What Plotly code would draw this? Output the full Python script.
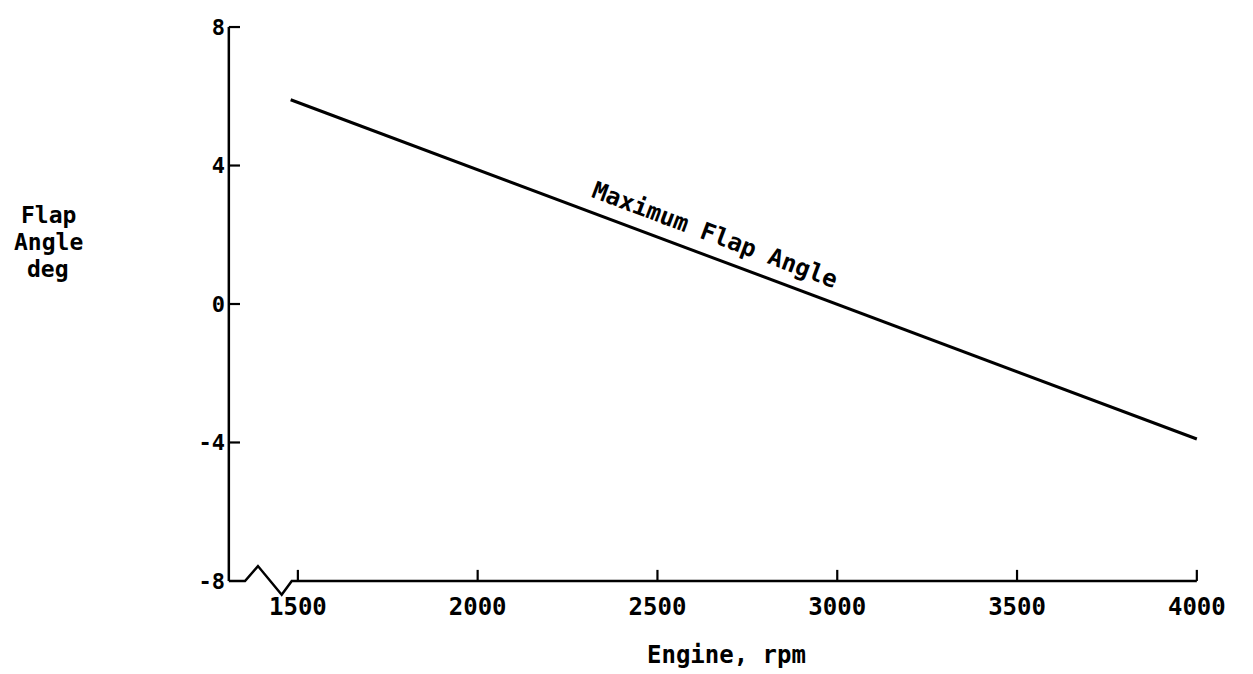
import plotly.graph_objects as go

# ---- data ----
rpm = [1480, 4000]
flap_angle = [5.9, -3.9]
line_label = "Maximum Flap Angle"

x_ticks = [1500, 2000, 2500, 3000, 3500, 4000]
y_ticks = [-8, -4, 0, 4, 8]

x_title = "Engine, rpm"
y_title_lines = ["Flap", "Angle", "deg"]

# axis-break decoration (rpm, deg) for the broken x axis
axis_origin_x = 1308
break_x = [1353, 1389, 1455, 1483]
break_y = [-8, -7.57, -8.4, -8]

FONT = "DejaVu Sans Mono"

fig = go.Figure()

# data line
fig.add_trace(go.Scatter(x=rpm, y=flap_angle, mode="lines",
                         line=dict(color="black", width=3), hoverinfo="skip"))

# y axis line
fig.add_trace(go.Scatter(x=[axis_origin_x, axis_origin_x], y=[min(y_ticks), max(y_ticks)],
                         mode="lines", line=dict(color="black", width=2.5), hoverinfo="skip"))
# x axis line with break
ax_x = [axis_origin_x] + break_x + [max(x_ticks)]
ax_y = [min(y_ticks)] + break_y + [min(y_ticks)]
fig.add_trace(go.Scatter(x=ax_x, y=ax_y, mode="lines",
                         line=dict(color="black", width=2.5), hoverinfo="skip"))

# tick marks
tx, ty = [], []
for v in x_ticks:
    tx += [v, v, None]
    ty += [min(y_ticks), min(y_ticks) + 0.32, None]
for v in y_ticks[1:]:
    tx += [axis_origin_x, axis_origin_x + 31, None]
    ty += [v, v, None]
fig.add_trace(go.Scatter(x=tx, y=ty, mode="lines",
                         line=dict(color="black", width=2.2), hoverinfo="skip"))

annotations = [
    dict(x=2660, y=2.0, xref="x", yref="y", text=line_label, showarrow=False,
         textangle=20.6, font=dict(family=FONT, size=24, color="black", weight="bold")),
    dict(x=0.504, y=-0.094, xref="paper", yref="paper", text=x_title, showarrow=False,
         xanchor="center", yanchor="middle",
         font=dict(family=FONT, size=24, color="black", weight="bold")),
]
for i, t in enumerate(y_title_lines):
    annotations.append(dict(x=-0.174, y=0.66 - i * 0.046, xref="paper", yref="paper",
                            text=t, showarrow=False, xanchor="center", yanchor="middle",
                            font=dict(family=FONT, size=23, color="black", weight="bold")))

fig.update_layout(
    width=1245, height=666,
    margin=dict(l=214, r=31, t=7, b=74),
    paper_bgcolor="white", plot_bgcolor="white",
    showlegend=False, hovermode=False,
    annotations=annotations,
    xaxis=dict(range=[1289, 4070], showgrid=False, zeroline=False, showline=False,
               tickvals=x_ticks, ticktext=[str(v) for v in x_ticks], ticks="",
               ticklabelstandoff=-10,
               tickfont=dict(family=FONT, size=24, color="black", weight="bold")),
    yaxis=dict(range=[-8.55, 8.29], showgrid=False, zeroline=False, showline=False,
               tickvals=y_ticks, ticktext=[str(v) for v in y_ticks], ticks="",
               ticklabelstandoff=-4,
               tickfont=dict(family=FONT, size=22, color="black", weight="bold")),
)

fig.write_html("out.html")
